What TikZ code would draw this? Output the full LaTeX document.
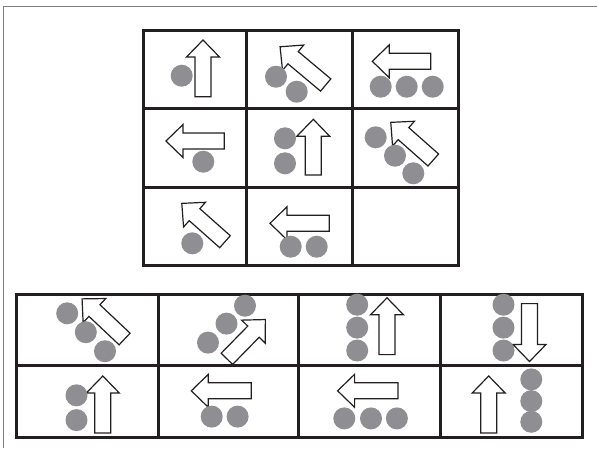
\documentclass[tikz,border=0pt]{standalone}
\usetikzlibrary{calc}
\definecolor{dotc}{RGB}{142,142,147}
\definecolor{gridc}{RGB}{35,31,32}
\definecolor{framec}{RGB}{125,125,125}
\tikzset{
  gridline/.style={draw=gridc,line width=3pt},
  arrowstyle/.style={draw=gridc,fill=white,line width=1.2pt,line join=miter},
  dot/.style={fill=dotc}
}
\newcommand\blkarrow[4]{%
  \pgfmathsetmacro\arang{atan2((#2)-(#4),(#3)-(#1))}%
  \pgfmathsetmacro\arlen{veclen((#3)-(#1),(#4)-(#2))}%
  \begin{scope}[shift={(#1,#2)},rotate=\arang]
    \draw[arrowstyle] (0pt,-8pt) -- (\arlen pt-17pt,-8pt) -- (\arlen pt-17pt,-16.5pt)
      -- (\arlen pt,0pt) -- (\arlen pt-17pt,16.5pt) -- (\arlen pt-17pt,8pt) -- (0pt,8pt) -- cycle;
  \end{scope}}
\newcommand\dotat[2]{\fill[dot] (#1,#2) circle (11pt);}
\begin{document}
\begin{tikzpicture}[x=1pt,y=-1pt]
\useasboundingbox (0,0) rectangle (597,448);
\fill[white] (0,0) rectangle (597,448);
\draw[framec,line width=1pt] (3,448) -- (3,6) -- (597,6);

% top grid
\draw[gridline] (143,30) rectangle (458,265);
\draw[gridline] (246,30) -- (246,265) (352,30) -- (352,265) (143,108) -- (458,108) (143,187) -- (458,187);

% row 1
\blkarrow{203}{96.7}{203}{40}
\dotat{181.7}{75.7}
\blkarrow{325.7}{85}{280}{46.7}
\dotat{276}{76.7}\dotat{296.7}{91.7}
\blkarrow{430.7}{61.3}{372.3}{61.3}
\dotat{380.7}{86.7}\dotat{406.7}{86.7}\dotat{432.7}{86.7}
% row 2
\blkarrow{224.3}{141}{166}{141}
\dotat{203.3}{161.7}
\blkarrow{313.3}{175}{313.3}{119.3}
\dotat{285}{138.3}\dotat{285}{163.3}
\blkarrow{433.3}{160}{390.7}{122.3}
\dotat{375.7}{137.3}\dotat{395}{155.7}\dotat{413.3}{173.3}
% row 3
\blkarrow{225}{241.7}{181.7}{203.3}
\dotat{192.3}{243.3}
\blkarrow{329.3}{223.3}{270}{223.3}
\dotat{290.7}{246.7}\dotat{316.7}{246.7}

% bottom grid
\draw[gridline] (16.5,294) rectangle (582,437);
\draw[gridline] (158,294) -- (158,437) (298.7,294) -- (298.7,437) (440.6,294) -- (440.6,437) (16.5,365.5) -- (582,365.5);

\blkarrow{124.6}{339}{82}{298.8}
\dotat{67.2}{313.3}\dotat{85.8}{332.2}\dotat{105}{351.2}
\blkarrow{226.9}{358.8}{265.4}{319.5}
\dotat{245}{305.7}\dotat{226.5}{323.6}\dotat{208}{342.6}
\blkarrow{387}{354.6}{387}{297.8}
\dotat{357.2}{304.7}\dotat{357.2}{327.6}\dotat{357.2}{350.5}
\blkarrow{529.5}{303.6}{529.5}{361.5}
\dotat{503.5}{304.7}\dotat{503.5}{327.6}\dotat{503.5}{350.5}

\blkarrow{102.8}{433}{102.8}{376}
\dotat{76.5}{395.3}\dotat{76.5}{420.1}
\blkarrow{251.3}{390.8}{191.3}{390.8}
\dotat{211.7}{416.6}\dotat{237.6}{416.6}
\blkarrow{398}{390.8}{337.6}{390.8}
\dotat{344.3}{418.4}\dotat{371}{418.4}\dotat{396.9}{418.4}
\blkarrow{488.7}{433}{488.7}{376}
\dotat{531.3}{379.4}\dotat{531.3}{401.1}\dotat{531.3}{421.8}
\end{tikzpicture}
\end{document}
